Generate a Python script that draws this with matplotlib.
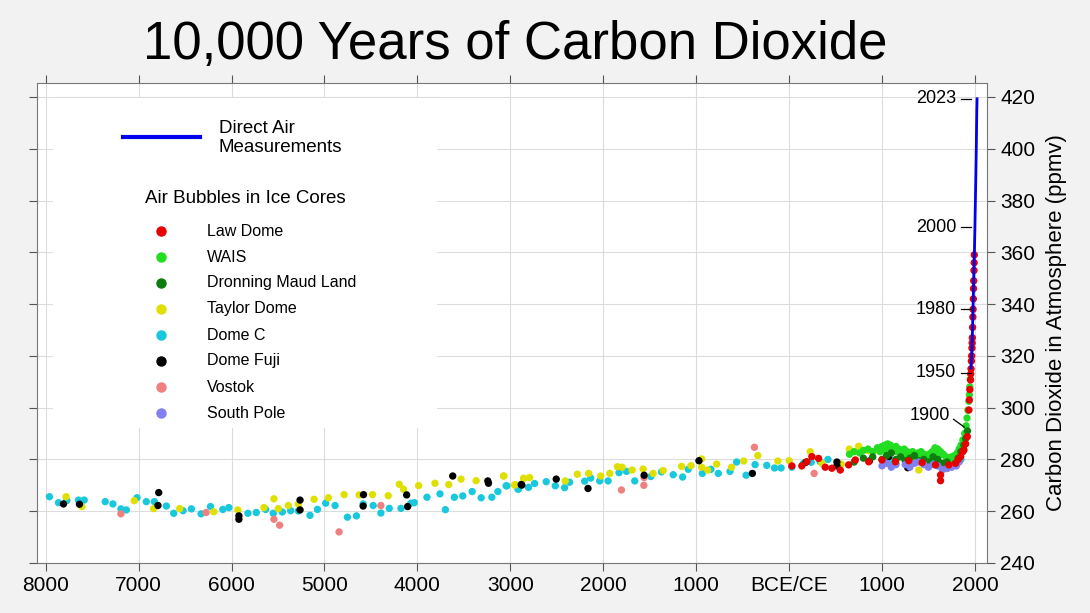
import matplotlib.pyplot as plt
from matplotlib.patches import Rectangle

plt.rcParams['font.family'] = ['Liberation Sans', 'DejaVu Sans']

# Direct air measurements (Mauna Loa)
air_year = [1958, 1960, 1965, 1970, 1975, 1980, 1985, 1990, 1995, 2000, 2005, 2010, 2015, 2020, 2023]
air_ppm = [315.3, 316.9, 320.0, 325.7, 331.1, 338.8, 346.1, 354.4, 360.8, 369.7, 379.8, 389.9, 401.0, 414.2, 419.3]

# Ice core series
law_year = [30, 137, 191, 245, 317, 389, 461, 551, 641, 713, 857, 1000, 1144, 1288, 1432, 1576, 1630, 1630,
            1720, 1792, 1820, 1846, 1870, 1882, 1900, 1918, 1935, 1940, 1945, 1953,
            1955, 1958, 1962, 1965, 1968, 1970, 1972, 1975, 1978, 1980, 1983, 1985, 1987, 1990, 1992, 1993]
law_ppm = [277.5, 277.5, 279.1, 281.1, 280.4, 277.0, 276.6, 275.9, 277.9, 279.8, 279.1, 279.8, 279.1, 279.5, 278.8, 277.9, 274.0, 271.8,
           277.9, 278.5, 280.0, 281.1, 283.0, 283.7, 286.0, 288.8, 299.1, 303.0, 307.0, 310.7,
           313.0, 315.0, 318.0, 320.0, 323.0, 325.0, 327.0, 331.0, 335.0, 338.0, 342.0, 346.0, 349.0, 353.0, 356.0, 359.0]

wais_year = [650, 700, 760, 800, 850, 900, 950, 1000, 1030, 1060, 1090, 1120, 1150, 1180, 1210, 1240, 1270, 1300,
             1330, 1360, 1390, 1420, 1450, 1480, 1510, 1540, 1570, 1600, 1630, 1660, 1690, 1720, 1750, 1780,
             1810, 1830, 1850, 1870, 1890, 1905, 1915, 1925, 1935, 1940, 1945, 1950,
             980, 1040, 1100, 1160, 1220, 1280, 1340, 1400, 1460, 1520, 1580, 1640, 1700, 1760]
wais_ppm = [282.0, 283.0, 282.5, 283.5, 284.0, 283.0, 284.5, 285.0, 285.5, 286.0, 285.5, 284.5, 285.0, 284.0, 283.5, 284.0, 283.0, 282.5,
            283.0, 282.0, 282.5, 283.0, 282.0, 281.5, 282.0, 283.0, 284.5, 284.0, 283.0, 282.0, 281.0, 280.5, 281.0, 281.5,
            282.5, 284.0, 285.5, 287.5, 290.0, 293.0, 296.0, 299.0, 302.5, 305.0, 308.0, 311.0,
            283.0, 283.5, 284.0, 283.0, 282.0, 281.5, 281.0, 281.5, 280.5, 281.0, 282.5, 282.0, 279.5, 279.5]

dml_year = [700, 800, 900, 1000, 1050, 1100, 1150, 1200, 1250, 1300, 1350, 1400, 1450, 1500, 1550, 1600, 1650,
            1700, 1750, 1790, 1820, 1850, 1880, 1900, 1920]
dml_ppm = [279.0, 280.5, 281.0, 280.0, 281.5, 282.5, 280.0, 281.0, 279.5, 280.5, 281.5, 279.5, 280.0, 279.0, 281.0, 280.0, 278.5,
           279.0, 277.5, 278.5, 280.5, 283.0, 285.5, 288.0, 291.0]

taylor_year = [-7781, -7612, -7047, -6838, -6558, -6191, -5932, -5652, -5544, -5497, -5389, -5281, -5112, -4958, -4789,
               -4627, -4483, -4314, -4195, -4149, -3987, -3811, -3663, -3530, -3368, -3073, -2948, -2858, -2793,
               -3070, -2955, -2854, -2409, -2279, -2157, -2027, -1930, -1848, -1797, -1689, -1571, -1463, -1355,
               -1157, -1056, -941, -941, -877, -780, -618, -488, -337, -121, 1, 227, 353, 562, 648, 749, 850, 946,
               1396, 1200, 1500, 1700]
taylor_ppm = [265.6, 261.8, 264.1, 261.0, 261.0, 259.8, 260.5, 261.4, 264.8, 261.0, 262.2, 262.8, 264.6, 265.2, 266.4,
              266.3, 266.4, 266.0, 270.4, 268.5, 269.9, 270.8, 270.3, 272.4, 271.8, 273.6, 270.3, 272.7, 273.0,
              273.6, 270.1, 272.7, 271.7, 274.3, 274.6, 273.6, 274.6, 277.2, 277.0, 275.9, 276.3, 274.6, 275.7,
              277.3, 277.6, 280.2, 277.0, 275.9, 278.2, 277.0, 279.4, 281.5, 279.4, 279.5, 283.0, 278.5, 278.2, 284.0, 285.1, 283.4, 283.7,
              275.9, 281.5, 282.0, 276.5]

domec_year = [-7960, -7863, -7773, -7648, -7586, -7360, -7277, -7191, -7133, -7018, -6918, -6831, -6702, -6623, -6522,
              -6432, -6328, -6227, -6094, -6029, -5824, -5734, -5634, -5551, -5454, -5364, -5281, -5156, -5076, -4987,
              -4886, -4753, -4656, -4584, -4476, -4393, -4303, -4177, -4069, -4034, -3897, -3757, -3699, -3602, -3512,
              -3411, -3314, -3199, -3134, -3038, -2912, -2804,
              -3045, -2919, -2739, -2614, -2516, -2416, -2362, -2200, -2135, -2038, -1948, -1830, -1750, -1661, -1488,
              -1373, -1247, -1146, -1085, -934, -841, -762, -636, -564, -463, -366, -240, -157, -86, 30, 155, 238, 335, 418,
              1100, 1250, 1400, 1550, 1700, 1850, 1150]
domec_ppm = [265.6, 263.3, 264.1, 264.3, 264.3, 263.7, 262.8, 260.9, 260.5, 265.2, 263.7, 263.7, 262.0, 259.2, 260.2,
             260.9, 259.0, 261.8, 260.7, 261.4, 259.2, 259.5, 260.7, 259.2, 259.7, 260.2, 260.1, 258.4, 260.7, 263.1,
             262.2, 257.7, 258.2, 262.8, 262.2, 259.3, 261.1, 261.1, 263.1, 263.3, 265.4, 266.7, 260.6, 265.4, 265.9,
             267.6, 265.2, 265.4, 267.6, 269.8, 268.5, 269.2,
             269.8, 268.6, 270.7, 271.4, 269.8, 269.1, 271.2, 271.6, 272.8, 271.7, 271.7, 274.9, 275.4, 271.7, 273.4,
             275.2, 274.1, 273.2, 276.2, 274.6, 276.2, 274.6, 275.4, 279.0, 273.9, 278.0, 277.7, 276.7, 276.7, 277.0, 278.5, 278.9, 279.1, 280.0,
             279.5, 280.0, 281.0, 280.5, 280.5, 280.0, 278.5]

fuji_year = [-7809, -7637, -6784, -6792, -5921, -5921, -5263, -5263, -4580, -4584, -4116, -4105, -3620, -3242, -3235, -2883,
             -2876, -2506, -2164, -1560, -970, -395, 181, 515, 515, 864, 1072, 1072, 1288, 1277]
fuji_ppm = [262.8, 262.7, 267.2, 262.2, 258.2, 256.9, 264.3, 260.5, 266.4, 262.0, 266.3, 261.8, 273.6, 271.7, 270.8, 270.3,
            270.1, 272.4, 268.8, 273.9, 279.5, 274.6, 278.9, 279.0, 277.5, 279.4, 283.9, 281.1, 280.4, 276.8]

vostok_year = [-7191, -6274, -5544, -5483, -4843, -4393, -1804, -1560, -1563, -373, 270]
vostok_ppm = [259.0, 259.5, 256.9, 254.6, 252.0, 262.2, 268.2, 273.0, 270.0, 284.7, 274.6]

spole_year = [1000, 1050, 1100, 1150, 1250, 1300, 1350, 1400, 1450, 1500, 1550, 1600, 1650, 1700, 1750, 1800, 1830]
spole_ppm = [277.5, 278.5, 277.0, 278.0, 278.0, 277.0, 278.5, 279.0, 278.0, 277.0, 278.0, 277.5, 276.0, 276.5, 277.0, 277.5, 279.0]

# year labels along the modern curve
label_year = ['2023', '2000', '1980', '1950', '1900']
label_ppm = [419.3, 369.7, 338.0, 313.5, 294.0]

series = [
    ('Law Dome', law_year, law_ppm, '#e60000'),
    ('WAIS', wais_year, wais_ppm, '#22dd22'),
    ('Dronning Maud Land', dml_year, dml_ppm, '#0d7d0d'),
    ('Taylor Dome', taylor_year, taylor_ppm, '#e0e000'),
    ('Dome C', domec_year, domec_ppm, '#19c8dc'),
    ('Dome Fuji', fuji_year, fuji_ppm, '#000000'),
    ('Vostok', vostok_year, vostok_ppm, '#f08080'),
    ('South Pole', spole_year, spole_ppm, '#8080ee'),
]
draw_order = [4, 3, 6, 5, 1, 2, 7, 0]

fig = plt.figure(figsize=(10.9, 6.13), dpi=100, facecolor='#f2f2f2')
ax = fig.add_axes([37/1090, 1-563/613, 950/1090, 480/613])
ax.set_facecolor('white')

ax.set_xlim(-8094, 2130)
ax.set_ylim(240, 425.4)
xt = list(range(-8000, 2001, 1000))
ax.set_xticks(xt)
ax.set_xticklabels(['BCE/CE' if v == 0 else str(abs(v)) for v in xt], fontsize=15)
ax.set_yticks(range(240, 421, 20))
ax.yaxis.tick_right()
ax.tick_params(axis='y', which='both', left=True, right=True, direction='out', labelsize=15, length=6, color='#555555')
ax.tick_params(axis='x', top=True, direction='out', length=6, color='#555555')
ax.yaxis.set_label_position('right')
ax.set_ylabel('Carbon Dioxide in Atmosphere (ppmv)', fontsize=16, labelpad=8)
for s in ax.spines.values():
    s.set_color('#777777')
ax.grid(True, color='#dcdcdc', linewidth=0.8)
ax.set_axisbelow(True)

ax.plot(air_year, air_ppm, color='#0000ee', linewidth=2, zorder=4)
for i in draw_order:
    name, yr, pp, col = series[i]
    ax.scatter(yr, pp, s=28, color=col, edgecolors='none', zorder=3)

# year labels with short leader dashes
for lab, v in zip(label_year, label_ppm):
    if lab == '1900':
        ax.text(1730, v + 3, lab, fontsize=13, ha='right', va='center')
        ax.plot([1770, 1885], [v + 1.5, v - 1.5], color='black', lw=0.9, zorder=5)
    else:
        ax.text(1800, v, lab, fontsize=13, ha='right', va='center')
        ax.plot([1855, 1960], [v, v], color='black', lw=0.9, zorder=5)

# legend panel
px = lambda x, y: (x/1090, 1 - y/613)
ax.add_patch(Rectangle(px(53, 428), 384/1090, 330/613, transform=fig.transFigure,
                       facecolor='white', edgecolor='none', zorder=2))
fig.add_artist(plt.Line2D([123/1090, 200/1090], [1-137/613, 1-137/613], color='#0000ee', linewidth=3))
fig.text(*px(219, 138), 'Direct Air\nMeasurements', fontsize=13.5, va='center', linespacing=1.2)
fig.text(*px(245, 198), 'Air Bubbles in Ice Cores', fontsize=13.5, ha='center', va='center')
for k, (name, yr, pp, col) in enumerate(series):
    yy = 231 + 26 * k
    fig.add_artist(plt.Line2D([161/1090], [1-yy/613], marker='o', markersize=6.5, color=col, linestyle='none'))
    fig.text(*px(207, yy), name, fontsize=11.5, va='center')

fig.text(0.473, 1-45/613, '10,000 Years of Carbon Dioxide', fontsize=38, ha='center', va='center')

fig.savefig('out.png', dpi=100, facecolor=fig.get_facecolor())
